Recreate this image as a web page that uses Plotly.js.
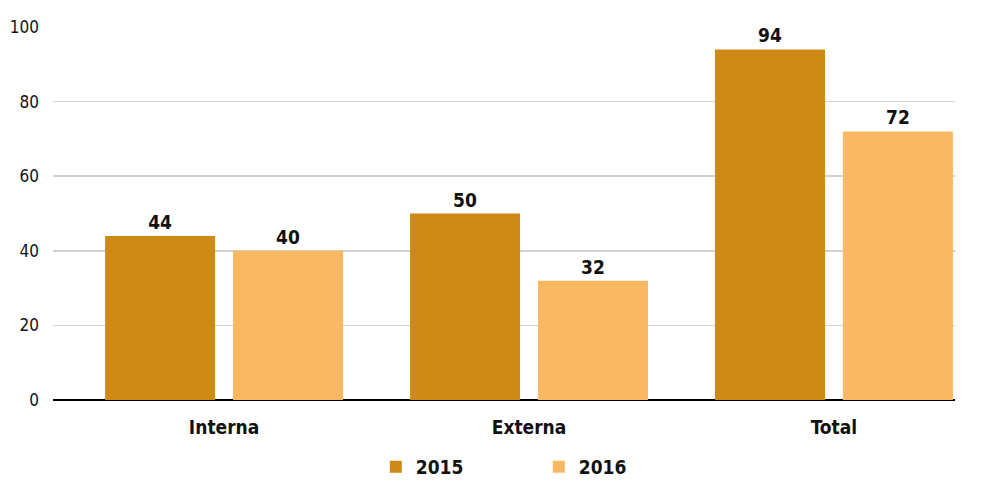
<!DOCTYPE html>
<html><head><meta charset="utf-8">
<script src="https://cdn.plot.ly/plotly-3.0.1.min.js"></script>
<style>html,body{margin:0;padding:0;background:#fff}</style>
</head><body>
<div id="chart" style="width:985px;height:486px"></div>
<script>
const categories = ["Interna", "Externa", "Total"];
const seriesNames = ["2015", "2016"];
const values2015 = [44, 50, 94];
const values2016 = [40, 32, 72];
const yTicks = [0, 20, 40, 60, 80, 100];

const FONT = '"DejaVu Sans Condensed", "Liberation Sans Narrow", sans-serif';
const colors = ["#CE8A16", "#FBB862"];

function mk(name, vals, color) {
  return {
    type: 'bar', name: name, x: categories, y: vals,
    marker: {color: color},
    text: vals.map(String), textposition: 'outside', cliponaxis: false,
    textfont: {family: FONT, size: 19, color: '#111', weight: 'bold'},
    hoverinfo: 'skip'
  };
}
const data = [mk(seriesNames[0], values2015, colors[0]), mk(seriesNames[1], values2016, colors[1])];

const layout = {
  width: 985, height: 486,
  margin: {l: 53, r: 30, t: 27, b: 86, autoexpand: false},
  paper_bgcolor: '#fff', plot_bgcolor: '#fff',
  barmode: 'group', bargap: 0.161, bargroupgap: 0.14,
  font: {family: FONT, color: '#111'},
  xaxis: {
    type: 'category', range: [-0.561, 2.397],
    showgrid: false, showline: false, zeroline: false, ticks: '',
    ticklabelstandoff: 14,
    tickfont: {family: FONT, size: 19, color: '#111', weight: 'bold'}
  },
  yaxis: {
    range: [0, 100], tickvals: yTicks, ticktext: yTicks.map(String),
    showgrid: true, gridcolor: '#d2d2d2', gridwidth: 1.5,
    zeroline: true, zerolinecolor: '#000', zerolinewidth: 2,
    showline: false, ticks: '', ticklabelstandoff: 13,
    tickfont: {family: FONT, size: 17, color: '#111'}
  },
  showlegend: true,
  legend: {
    orientation: 'h', xref: 'container', yref: 'container',
    x: 0.547, xanchor: 'center', y: 0, yanchor: 'bottom',
    font: {family: FONT, size: 19, color: '#111', weight: 'bold'},
    entrywidth: 118, itemwidth: 30, traceorder: 'normal'
  }
};
Plotly.newPlot('chart', data, layout, {displayModeBar: false, staticPlot: true});
</script>
</body></html>
